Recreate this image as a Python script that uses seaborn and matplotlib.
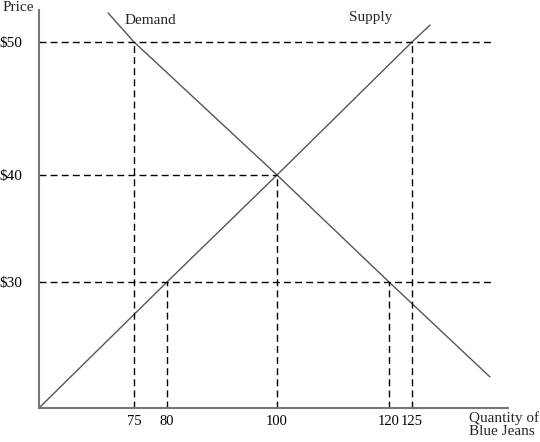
import matplotlib
matplotlib.use("Agg")
import matplotlib.pyplot as plt
import seaborn as sns
import numpy as np

# quantities / prices
qty_ticks = [75, 80, 100, 120, 125]
price_ticks = [30, 40, 50]
price_labels = ["$30", "$40", "$50"]

demand_q = [54.5, 75, 100, 120, 145.3]
demand_p = [59.1, 50, 40, 30, 7.4]
supply_q = [0, 80, 100, 125, 129.7]
supply_p = [0, 30, 40, 50, 55.3]

# dashed guides
guide_q = [75, 80, 100, 120, 125]
guide_p = [50, 30, 40, 30, 50]
hguide_p = [50, 40, 30]
hguide_end = [145.8, 100, 145.8]

# schematic (non-uniform) axes, like the hand drawn figure
x_knots = [0, 75, 80, 100, 120, 125, 150]
x_pos = [0, 95, 128, 238, 350, 373, 469]
y_knots = [0, 30, 40, 50, 60]
y_pos = [0, 126, 233, 366, 398]


def fwd_x(v):
    return np.interp(v, x_knots, x_pos)


def inv_x(v):
    return np.interp(v, x_pos, x_knots)


def fwd_y(v):
    return np.interp(v, y_knots, y_pos)


def inv_y(v):
    return np.interp(v, y_pos, y_knots)


sns.set_style("white")
plt.rcParams['font.family'] = ['Liberation Serif', 'DejaVu Serif']

fig = plt.figure(figsize=(5.4, 4.42), dpi=100)
ax = fig.add_axes([39 / 540, 34 / 442, 469 / 540, 398 / 442])
ax.set_xscale('function', functions=(fwd_x, inv_x))
ax.set_yscale('function', functions=(fwd_y, inv_y))

line_col = "#555555"
sns.lineplot(x=demand_q, y=demand_p, ax=ax, color=line_col, linewidth=1, sort=False)
sns.lineplot(x=supply_q, y=supply_p, ax=ax, color=line_col, linewidth=1, sort=False)

dash = (0, (5, 3))
ax.hlines(hguide_p, 0, hguide_end, colors="black", linestyles=dash, linewidth=1)
ax.vlines(guide_q, 0, guide_p, colors="black", linestyles=dash, linewidth=1)

ax.set_xlim(0, 150)
ax.set_ylim(0, 60)

ax.set_xticks(qty_ticks)
ax.set_xticklabels([str(q) for q in qty_ticks])
ax.set_yticks(price_ticks)
ax.set_yticklabels(price_labels)
ax.xaxis.set_minor_locator(matplotlib.ticker.NullLocator())
ax.yaxis.set_minor_locator(matplotlib.ticker.NullLocator())
ax.tick_params(axis="both", length=0, colors="black")
ax.tick_params(axis="x", pad=5, labelsize=10.5)
ax.tick_params(axis="y", pad=12, labelsize=11)

for s in ["top", "right"]:
    ax.spines[s].set_visible(False)
for s in ["left", "bottom"]:
    ax.spines[s].set_color("#777777")
    ax.spines[s].set_linewidth(1.5)

ax.text(67.9, 56.6, "Demand", fontsize=11, ha="left", va="center")
ax.text(112.9, 57.5, "Supply", fontsize=11, ha="left", va="center")

fig.text(3 / 540, 1 - 1 / 442, "Price", fontsize=11, ha="left", va="top")
fig.text(469 / 540, 1 - 411 / 442, "Quantity of\nBlue Jeans", fontsize=11,
         ha="left", va="top", linespacing=1.05)

fig.savefig("out.png", dpi=100)
